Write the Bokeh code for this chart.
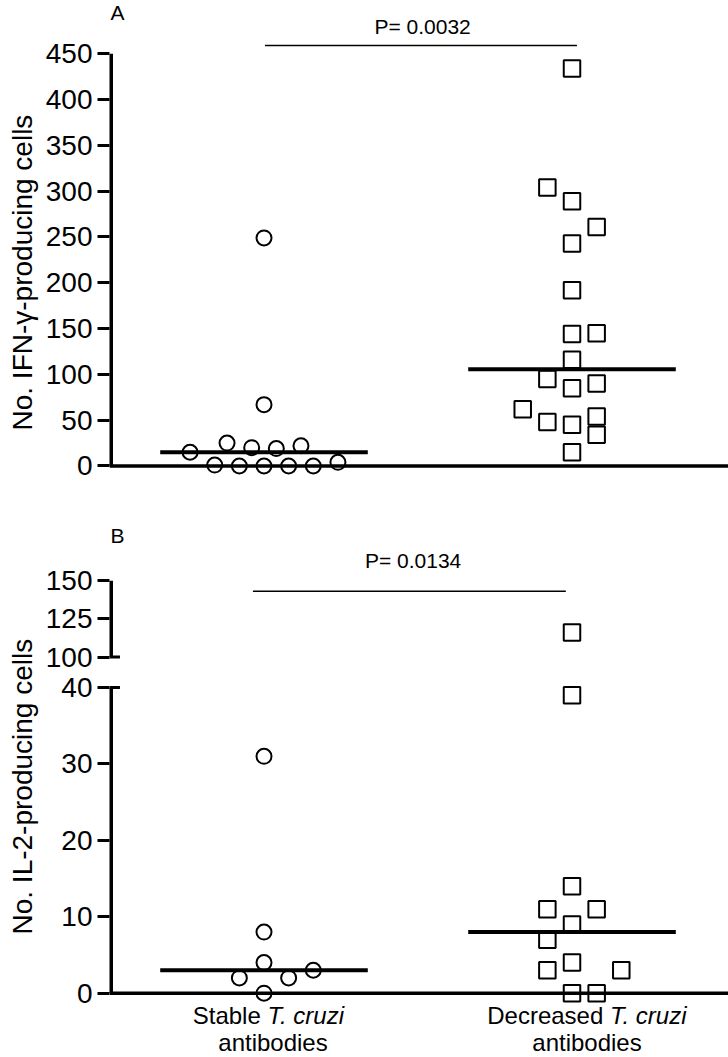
import numpy as np
from bokeh.plotting import figure
from bokeh.models import Range1d, FixedTicker, Span, Title
from bokeh.layouts import column
from bokeh.embed import file_html
from bokeh.resources import INLINE
from bokeh.core.properties import value

# ---------------- data ----------------
group_pos = [1, 2]
group_first_word = ["Stable", "Decreased"]
group_italic = ["T. cruzi", "T. cruzi"]
group_second_line = ["antibodies", "antibodies"]

ifn_stable = [249, 67, 15, 25, 20, 19, 22, 1, 0, 0, 0, 0, 4]
ifn_decreased = [434, 304, 289, 261, 243, 192, 144, 145, 116, 95, 85, 90, 62, 48, 45, 54, 34, 15]
il2_stable = [31, 8, 4, 2, 2, 3, 0]
il2_decreased = [116, 39, 14, 11, 11, 9, 7, 4, 3, 3, 0, 0]

p_ifn = "P= 0.0032"
p_il2 = "P= 0.0134"
ifn_ticks = [0, 50, 100, 150, 200, 250, 300, 350, 400, 450]
il2_ticks_low = [0, 10, 20, 30, 40]
il2_ticks_high = [100, 125, 150]
ifn_title = "No. IFN-\u03b3-producing cells"
il2_title = "No. IL-2-producing cells"

# ---------------- layout (swarm offsets in marker steps) ----------------
STEP = 0.08
ifn_stable_swarm = [0, 0, -3, -1.5, -0.5, 0.5, 1.5, -2, -1, 0, 1, 2, 3]
ifn_decreased_swarm = [0, -1, 0, 1, 0, 0, 0, 1, 0, -1, 0, 1, -2, -1, 0, 1, 1, 0]
il2_stable_swarm = [0, 0, 0, -1, 1, 2, 0]
il2_decreased_swarm = [0, 0, 0, -1, 1, 0, -1, 0, -1, 2, 0, 1]

FONT = "Liberation Sans"
W = 728
LEFT = 107
PX_PER_CAT = 309.0
XR = (1 - (262 - LEFT) / PX_PER_CAT, 2 + (W - 571) / PX_PER_CAT)
MED_HALF = 0.337

# broken axis transform for panel B
LOW_MAX, HIGH_MIN, GAP, K = 40, 100, 4, 0.2


def by(v):
    v = np.asarray(v, dtype=float)
    return np.where(v <= LOW_MAX, v, LOW_MAX + GAP + (v - HIGH_MIN) * K)


def make_fig(height, y0, y1, ytitle, title_offset):
    p = figure(width=W, height=height, x_range=Range1d(*XR), y_range=Range1d(y0, y1),
               output_backend="svg", toolbar_location=None, x_axis_location=None,
               min_border_left=LEFT, min_border_right=0, min_border_top=0, min_border_bottom=0)
    p.grid.visible = False
    p.outline_line_color = None
    p.background_fill_color = "white"
    ax = p.yaxis[0]
    ax.axis_line_color = None
    ax.major_tick_line_width = 3
    ax.major_tick_line_color = "black"
    ax.major_tick_out = 12
    ax.major_tick_in = 0
    ax.minor_tick_line_color = None
    ax.major_label_text_font = FONT
    ax.major_label_text_font_size = "28px"
    ax.major_label_text_color = "black"
    ax.major_label_standoff = 5
    t = Title(text=ytitle, align="left", offset=title_offset, standoff=9,
              text_font=FONT, text_font_size="28px", text_font_style="normal",
              text_color="black")
    p.add_layout(t, "left")
    return p


def swarm_x(g, offs):
    return g + STEP * np.array(offs, dtype=float)


def draw_points(p, g, vals, offs, marker, size, transform=lambda v: np.asarray(v, float)):
    p.scatter(swarm_x(g, offs), transform(vals), marker=marker, size=size,
              line_color="black", line_width=2, fill_alpha=0)


def letter(p, txt, y):
    p.text(x=[XR[0]], y=[y], text=[txt], text_align="left", text_baseline="middle",
           x_offset=1, text_font=value(FONT), text_font_size="21px", text_color="black")


# ================= Panel A =================
pA = make_fig(513, -51.86, 508.19, ifn_title, 83)
pA.yaxis[0].ticker = FixedTicker(ticks=ifn_ticks)
pA.segment(x0=[XR[0]], x1=[XR[0]], y0=[min(ifn_ticks)], y1=[max(ifn_ticks)],
           line_width=7, line_color="black")
pA.add_layout(Span(location=0, dimension="width", line_width=3.5, line_color="black"))

draw_points(pA, group_pos[0], ifn_stable, ifn_stable_swarm, "circle", 15)
draw_points(pA, group_pos[1], ifn_decreased, ifn_decreased_swarm, "square", 16.5)
meds = [np.median(ifn_stable), np.median(ifn_decreased)]
pA.segment(x0=[g - MED_HALF for g in group_pos], x1=[g + MED_HALF for g in group_pos],
           y0=meds, y1=meds, line_width=4, line_color="black")
pA.segment(x0=[1.003], x1=[2.016], y0=[459], y1=[459], line_width=1.5, line_color="black")
pA.text(x=[1.515], y=[479.8], text=[p_ifn], text_align="center", text_baseline="middle",
        text_font=value(FONT), text_font_size="21px", text_color="black")
letter(pA, "A", 495.4)

# ================= Panel B (broken axis) =================
pB = make_fig(544, -8.42, 62.79, il2_title, 123)
tick_pos = [float(t) for t in by(il2_ticks_low + il2_ticks_high)]
tick_lab = [str(t) for t in il2_ticks_low + il2_ticks_high]
pB.yaxis[0].ticker = FixedTicker(ticks=tick_pos)
pB.yaxis[0].major_label_overrides = {tp: tl for tp, tl in zip(tick_pos, tick_lab)}
pB.segment(x0=[XR[0], XR[0]], x1=[XR[0], XR[0]],
           y0=[float(by(il2_ticks_low[0])), float(by(il2_ticks_high[0]))],
           y1=[float(by(il2_ticks_low[-1])), float(by(il2_ticks_high[-1]))],
           line_width=7, line_color="black")
cap_y = [float(by(il2_ticks_low[-1])), float(by(il2_ticks_high[0]))]
pB.segment(x0=[XR[0]] * 2, x1=[XR[0] + 0.034] * 2, y0=cap_y, y1=cap_y,
           line_width=3, line_color="black")
pB.add_layout(Span(location=0, dimension="width", line_width=3.5, line_color="black"))

draw_points(pB, group_pos[0], il2_stable, il2_stable_swarm, "circle", 15, by)
draw_points(pB, group_pos[1], il2_decreased, il2_decreased_swarm, "square", 16.5, by)
medsB = [float(by(np.median(il2_stable))), float(by(np.median(il2_decreased)))]
pB.segment(x0=[g - MED_HALF for g in group_pos], x1=[g + MED_HALF for g in group_pos],
           y0=medsB, y1=medsB, line_width=4, line_color="black")
pB.segment(x0=[0.964], x1=[1.98], y0=[float(by(143))], y1=[float(by(143))],
           line_width=1.5, line_color="black")
pB.text(x=[1.484], y=[float(by(163.3))], text=[p_il2], text_align="center",
        text_baseline="middle", text_font=value(FONT), text_font_size="21px", text_color="black")
letter(pB, "B", 59.91)

# category labels (mixed roman / italic)
split_off = [3.5, 38.0]
line2_off = [9.0, 15.0]
Y1, Y2 = -2.95, -6.5
for g, w1, wi, w2, so, lo in zip(group_pos, group_first_word, group_italic, group_second_line,
                                 split_off, line2_off):
    pB.text(x=[g], y=[Y1], text=[w1], text_align="right", text_baseline="middle",
            x_offset=so - 6.7, text_font=value(FONT), text_font_size="24px", text_color="black")
    pB.text(x=[g], y=[Y1], text=[wi], text_align="left", text_baseline="middle",
            x_offset=so, text_font=value(FONT), text_font_size="24px",
            text_font_style="italic", text_color="black")
    pB.text(x=[g], y=[Y2], text=[w2], text_align="center", text_baseline="middle",
            x_offset=lo, text_font=value(FONT), text_font_size="24px", text_color="black")

layout = column(pA, pB, spacing=0)
open("out.html", "w").write(file_html(layout, INLINE))
